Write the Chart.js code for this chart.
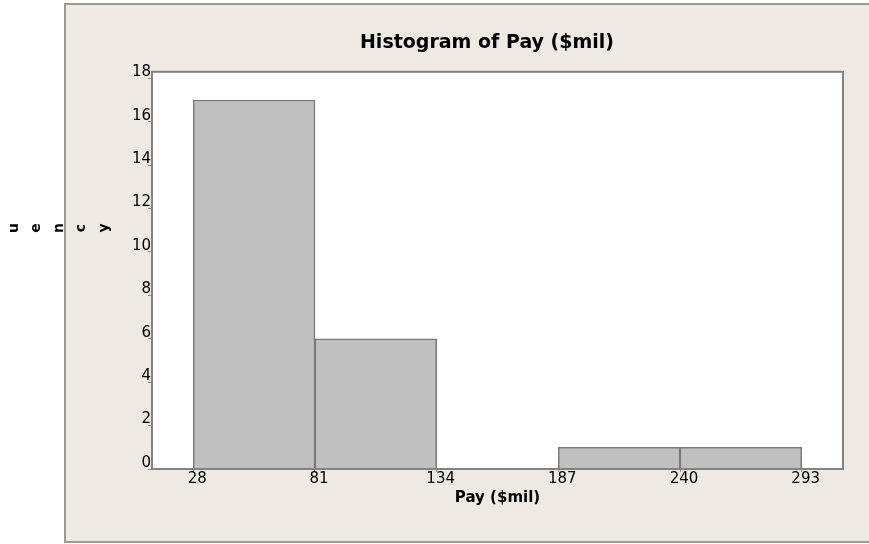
<!DOCTYPE html>
<html>
<head>
<meta charset="utf-8">
<script src="https://cdn.jsdelivr.net/npm/chart.js@4"></script>
<style>
  html, body { margin: 0; padding: 0; background: #fff; }
  #wrap { width: 869px; height: 544px; }
</style>
</head>
<body>
<div id="wrap"><canvas id="chart" width="869" height="544"></canvas></div>
<script>
const binEdges = [28, 81, 134, 187, 240, 293];
const counts = [17, 6, 0, 1, 1];
const yTicks = [0, 2, 4, 6, 8, 10, 12, 14, 16, 18];
const yTitle = "Frequency";

const bars = counts.map((c, i) => ({ x: (binEdges[i] + binEdges[i + 1]) / 2, y: c }));

const panel = {
    id: "panel",
    beforeDraw(chart) {
        const { ctx, chartArea: a } = chart;
        ctx.save();
        ctx.fillStyle = "#ffffff";
        ctx.fillRect(0, 0, chart.width, chart.height);
        ctx.fillStyle = "#efe9e3";
        ctx.fillRect(65, 4, 820, 538);
        ctx.strokeStyle = "#9c9993";
        ctx.lineWidth = 2;
        ctx.strokeRect(65, 4, 820, 538);
        ctx.fillStyle = "#ffffff";
        ctx.fillRect(a.left, a.top, a.width, a.height);
        ctx.restore();
    },
    afterDatasetsDraw(chart) {
        const { ctx, chartArea: a } = chart;
        ctx.save();
        ctx.strokeStyle = "#828282";
        ctx.lineWidth = 2;
        ctx.strokeRect(a.left, a.top, a.width, a.height);
        ctx.restore();
    },
    afterDraw(chart) {
        // axis title comes out letter by letter, partly off the left edge
        const ctx = chart.ctx;
        ctx.save();
        ctx.fillStyle = "#000";
        ctx.font = "bold 14px 'DejaVu Sans'";
        ctx.textAlign = "center";
        ctx.textBaseline = "middle";
        [...yTitle].forEach((ch, i) => {
            ctx.save();
            ctx.translate(14 + (i - 4) * 22.5, 228);
            ctx.rotate(-Math.PI / 2);
            ctx.fillText(ch, 0, 0);
            ctx.restore();
        });
        ctx.restore();
    },
};

new Chart(document.getElementById("chart"), {
    type: "bar",
    data: {
        datasets: [{
            data: bars,
            backgroundColor: "#c0c0c0",
            borderColor: "#7a7a7a",
            borderWidth: (c) => (c.raw && c.raw.y === 0 ? 0 : 1.5),
            barPercentage: 1,
            categoryPercentage: 1,
        }],
    },
    options: {
        responsive: false,
        animation: false,
        layout: { padding: { left: 131, right: 26, top: 0, bottom: 0 } },
        plugins: {
            legend: { display: false },
            tooltip: { enabled: false },
            title: {
                display: true,
                text: "Histogram of Pay ($mil)",
                color: "#000",
                font: { family: "'DejaVu Sans'", size: 19, weight: "bold" },
                padding: { top: 32, bottom: 17 },
            },
        },
        scales: {
            x: {
                type: "linear",
                min: 10,
                max: 311,
                offset: false,
                afterBuildTicks: (s) => { s.ticks = binEdges.map((v) => ({ value: v })); },
                afterFit: (s) => { s.height = 75; },
                grid: { offset: false, drawOnChartArea: false, tickLength: 3, color: "#8a8a8a" },
                border: { display: false },
                ticks: {
                    color: "#000",
                    font: { family: "'DejaVu Sans'", size: 15 },
                    padding: -2,
                    maxRotation: 0,
                    autoSkip: false,
                    labelOffset: 4,
                },
                title: {
                    display: true,
                    text: "Pay ($mil)",
                    color: "#000",
                    font: { family: "'DejaVu Sans'", size: 15, weight: "bold" },
                    padding: { top: 0, bottom: 37 },
                },
            },
            y: {
                min: 0,
                max: 18.3,
                afterBuildTicks: (s) => { s.ticks = yTicks.map((v) => ({ value: v })); },
                afterFit: (s) => { s.width = 21; },
                grid: { drawOnChartArea: false, tickLength: 4, color: "#8a8a8a" },
                border: { display: false },
                ticks: {
                    color: "#000",
                    font: { family: "'DejaVu Sans'", size: 15 },
                    padding: -3,
                    labelOffset: -6,
                },
            },
        },
    },
    plugins: [panel],
});
</script>
</body>
</html>
